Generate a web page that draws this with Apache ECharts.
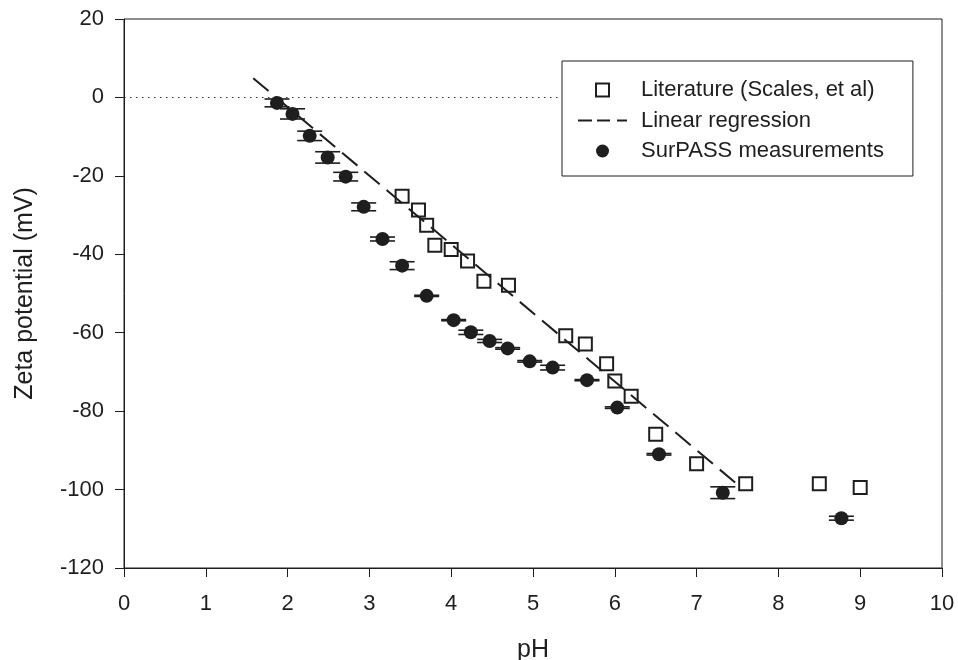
<!DOCTYPE html>
<html>
<head>
<meta charset="utf-8">
<script src="https://cdn.jsdelivr.net/npm/echarts@6/dist/echarts.min.js"></script>
<style>
html,body{margin:0;padding:0;background:#fff;}
#chart{width:958px;height:660px;}
</style>
</head>
<body>
<div id="chart"></div>
<script>
// Literature (Scales, et al) – open squares
var litPH = [3.4, 3.6, 3.7, 3.8, 4.0, 4.2, 4.4, 4.7, 5.4, 5.64, 5.9, 6.0, 6.2, 6.5, 7.0, 7.6, 8.5, 9.0];
var litZeta = [-25.2, -28.7, -32.6, -37.7, -38.8, -41.7, -46.9, -47.9, -60.8, -62.9, -67.9, -72.3, -76.2, -85.9, -93.4, -98.5, -98.5, -99.5];

// Linear regression – dashed line end points
var regPH = [1.58, 7.5];
var regZeta = [4.9, -98.7];

// SurPASS measurements – filled circles with error bars
var surPH = [1.87, 2.06, 2.27, 2.49, 2.71, 2.93, 3.16, 3.40, 3.70, 4.03, 4.24, 4.47, 4.69, 4.96, 5.24, 5.66, 6.03, 6.54, 7.32, 8.77];
var surZeta = [-1.4, -4.2, -9.8, -15.3, -20.2, -27.9, -36.1, -42.9, -50.6, -56.8, -59.9, -62.1, -64.0, -67.3, -68.9, -72.1, -79.1, -91.0, -100.8, -107.3];
var surErr = [1.0, 1.3, 1.2, 1.45, 1.1, 1.0, 0.5, 1.0, 0.15, 0.15, 0.55, 0.4, 0.2, 0.2, 0.6, 0.15, 0.2, 0.2, 1.5, 0.5];

// axis ticks
var xTicks = [0, 1, 2, 3, 4, 5, 6, 7, 8, 9, 10];
var yTicks = [-120, -100, -80, -60, -40, -20, 0, 20];

var FONT = '"Liberation Sans", Arial, sans-serif';
var INK = '#1e1e1e';

function zip(a, b) { return a.map(function (v, i) { return [v, b[i]]; }); }
var litData = zip(litPH, litZeta);
var regData = zip(regPH, regZeta);
var surData = zip(surPH, surZeta);
var errData = surPH.map(function (v, i) { return [v, surZeta[i], surErr[i]]; });

var chart = echarts.init(document.getElementById('chart'), null, {renderer: 'canvas'});
chart.setOption({
  animation: false,
  backgroundColor: '#fff',
  grid: {left: 124, right: 16, top: 19, bottom: 92, containLabel: false, outerBoundsMode: 'none',
         show: true, borderColor: INK, borderWidth: 1, backgroundColor: 'transparent'},
  xAxis: {
    type: 'value', min: xTicks[0], max: xTicks[xTicks.length - 1], interval: 1,
    name: 'pH', nameLocation: 'middle', nameGap: 70,
    nameTextStyle: {fontFamily: FONT, fontSize: 25, color: INK},
    axisLine: {show: true, onZero: false, lineStyle: {color: INK, width: 1}},
    axisTick: {show: true, inside: false, length: 9, lineStyle: {color: INK, width: 1}},
    axisLabel: {fontFamily: FONT, fontSize: 22, color: INK, margin: 25},
    splitLine: {show: false}
  },
  yAxis: {
    type: 'value', min: yTicks[0], max: yTicks[yTicks.length - 1], interval: 20,
    name: 'Zeta potential (mV)', nameLocation: 'middle', nameGap: 86,
    nameTextStyle: {fontFamily: FONT, fontSize: 25, color: INK},
    axisLine: {show: true, onZero: false, lineStyle: {color: INK, width: 1}},
    axisTick: {show: true, inside: false, length: 9, lineStyle: {color: INK, width: 1}},
    axisLabel: {fontFamily: FONT, fontSize: 22, color: INK, margin: 20},
    splitLine: {show: false}
  },
  legend: {
    orient: 'vertical', left: 562, top: 61,
    padding: [18, 29, 14, 16],
    itemGap: 8.5,
    itemWidth: 49, itemHeight: 13,
    borderColor: INK, borderWidth: 1, backgroundColor: '#fff',
    textStyle: {fontFamily: FONT, fontSize: 22, color: INK, padding: [0, 0, 0, 9]},
    selectedMode: false,
    data: [
      {name: 'Literature (Scales, et al)', icon: 'path://M0,0L10,0L10,10L0,10Z'},
      {name: 'Linear regression', icon: 'path://M0,0h14v2h-14z M19,0h13v2h-13z M39,0h10v2h-10z',
       itemStyle: {color: INK, borderWidth: 0}},
      {name: 'SurPASS measurements', icon: 'circle'}
    ]
  },
  series: [
    {
      name: 'zero', type: 'line', data: [], silent: true,
      markLine: {
        silent: true, symbol: 'none', label: {show: false},
        lineStyle: {color: '#333', width: 1, type: [1.5, 4.5]},
        data: [[{coord: [0, 0]}, {coord: [5.35, 0]}]]
      }
    },
    {
      name: 'errors', type: 'custom', data: errData, z: 2,
      renderItem: function (params, api) {
        var x = api.value(0), y = api.value(1), e = api.value(2);
        var top = api.coord([x, y + e]);
        var bot = api.coord([x, y - e]);
        var h = 12.5;
        var st = {stroke: INK, lineWidth: 1.6};
        return {
          type: 'group',
          children: [
            {type: 'line', shape: {x1: top[0], y1: top[1], x2: bot[0], y2: bot[1]}, style: st},
            {type: 'line', shape: {x1: top[0] - h, y1: top[1], x2: top[0] + h, y2: top[1]}, style: st},
            {type: 'line', shape: {x1: bot[0] - h, y1: bot[1], x2: bot[0] + h, y2: bot[1]}, style: st}
          ]
        };
      }
    },
    {
      name: 'Literature (Scales, et al)', type: 'scatter', data: litData, z: 3,
      symbol: 'rect', symbolSize: 13,
      itemStyle: {color: 'rgba(255,255,255,0)', borderColor: INK, borderWidth: 2, opacity: 1}
    },
    {
      name: 'Linear regression', type: 'line', data: regData, z: 4,
      symbol: 'none', showSymbol: false,
      lineStyle: {color: INK, width: 2, type: [20, 9]},
      itemStyle: {color: INK}
    },
    {
      name: 'SurPASS measurements', type: 'scatter', data: surData, z: 5,
      symbol: 'circle', symbolSize: 14,
      itemStyle: {color: INK, opacity: 1}
    }
  ]
});
</script>
</body>
</html>
